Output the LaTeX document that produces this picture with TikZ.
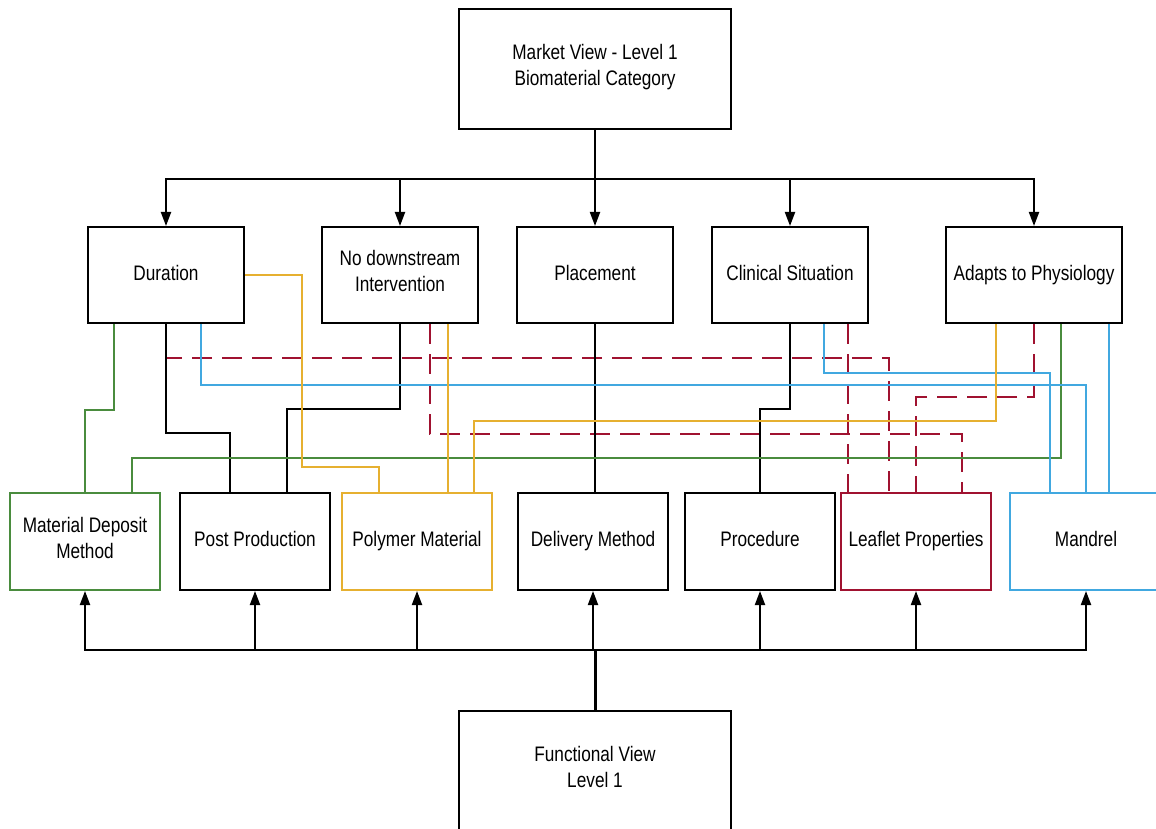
\documentclass[tikz,border=0pt]{standalone}
\usepackage{fontspec}
\setmainfont{Liberation Sans}[FakeStretch=0.82]
\usepackage{tikz}
\usetikzlibrary{arrows.meta,positioning}

\definecolor{lgreen}{RGB}{74,140,62}
\definecolor{lyellow}{RGB}{230,176,48}
\definecolor{lblue}{RGB}{65,168,224}
\definecolor{lred}{RGB}{160,18,48}

\tikzset{
  box/.style={draw, line width=2pt, inner sep=0pt, align=center,
    font=\fontsize{21}{26}\selectfont,
    execute at begin node=\strut, execute at end node=\strut},
  toprow/.style={box, minimum width=156pt, minimum height=96pt},
  botrow/.style={box, minimum width=150pt, minimum height=97pt},
  conn/.style={line width=2pt},
  arr/.style={conn, -{Triangle[length=14pt,width=10pt]}},
  reddash/.style={conn, lred, dash pattern=on 20pt off 10pt}
}

\begin{document}
\begin{tikzpicture}[x=1pt, y=-1pt]
  \useasboundingbox (0,0) rectangle (1156,829);

  % Define nodes
  \node[box, minimum width=272pt, minimum height=120pt] (Market) at (595,69) {Market View - Level 1\\Biomaterial Category};

  \node[toprow] (Duration) at (166,275) {Duration};
  \node[toprow] (Downstream) at (400,275) {No downstream\\Intervention};
  \node[toprow] (Placement) at (595,275) {Placement};
  \node[toprow] (Clinical) at (790,275) {Clinical Situation};
  \node[toprow, minimum width=176pt] (Adapts) at (1034,275) {Adapts to Physiology};

  \node[botrow, lgreen, text=black] (Deposit) at (85,541.5) {Material Deposit\\Method};
  \node[botrow] (PostProd) at (255,541.5) {Post Production};
  \node[botrow, lyellow, text=black] (Polymer) at (417,541.5) {Polymer Material};
  \node[botrow] (Delivery) at (593,541.5) {Delivery Method};
  \node[botrow] (Procedure) at (760,541.5) {Procedure};
  \node[botrow, lred, text=black] (Leaflet) at (916,541.5) {Leaflet Properties};
  \node[botrow, lblue, text=black, minimum width=152pt] (Mandrel) at (1086,541.5) {Mandrel};

  \node[box, minimum width=272pt, minimum height=120pt] (Functional) at (595,771) {Functional View\\Level 1};

  % Market view to the first row
  \foreach \n in {Duration,Downstream,Placement,Clinical,Adapts}
    \draw[arr] (Market.south) -- ++(0,49) -| (\n.north);

  % Functional view to the second row
  \foreach \n in {Deposit,PostProd,Polymer,Delivery,Procedure,Leaflet,Mandrel}
    \draw[arr] (Functional.north) -- ++(0,-60) -| (\n.south);
  \draw[line width=3pt] (Functional.north) -- ++(0,-60);

  % Connect the nodes: red (dashed)
  \draw[reddash] (Duration.south) -- ++(0,34) -| ([xshift=-27pt]Leaflet.north);
  \draw[reddash] ([xshift=30pt]Downstream.south) -- ++(0,110) -| ([xshift=46pt]Leaflet.north);
  \draw[reddash] ([xshift=58pt]Clinical.south) -- ([xshift=-68pt]Leaflet.north);
  \draw[reddash] (Adapts.south) -- ++(0,73) -| (Leaflet.north);

  % black
  \draw[conn] (Duration.south) -- ++(0,109) -| ([xshift=-25pt]PostProd.north);
  \draw[conn] (Downstream.south) -- ++(0,85) -| ([xshift=32pt]PostProd.north);
  \draw[conn] (Placement.south) -- (Placement.south |- Delivery.north);
  \draw[conn] (Clinical.south) -- ++(0,85) -| (Procedure.north);

  % green
  \draw[conn, lgreen] ([xshift=-52pt]Duration.south) -- ++(0,86) -| (Deposit.north);
  \draw[conn, lgreen] ([xshift=27pt]Adapts.south) -- ++(0,134) -| ([xshift=47pt]Deposit.north);

  % blue
  \draw[conn, lblue] ([xshift=35pt]Duration.south) -- ++(0,61) -| (Mandrel.north);
  \draw[conn, lblue] ([xshift=34pt]Clinical.south) -- ++(0,49) -| ([xshift=-36pt]Mandrel.north);
  \draw[conn, lblue] ([xshift=75pt]Adapts.south) -- ([xshift=23pt]Mandrel.north);

  % yellow
  \draw[conn, lyellow] (Duration.east) -- ++(57,0) -- ++(0,192) -| ([xshift=-38pt]Polymer.north);
  \draw[conn, lyellow] ([xshift=48pt]Downstream.south) -- ([xshift=31pt]Polymer.north);
  \draw[conn, lyellow] ([xshift=-38pt]Adapts.south) -- ++(0,97) -| ([xshift=57pt]Polymer.north);

\end{tikzpicture}
\end{document}
